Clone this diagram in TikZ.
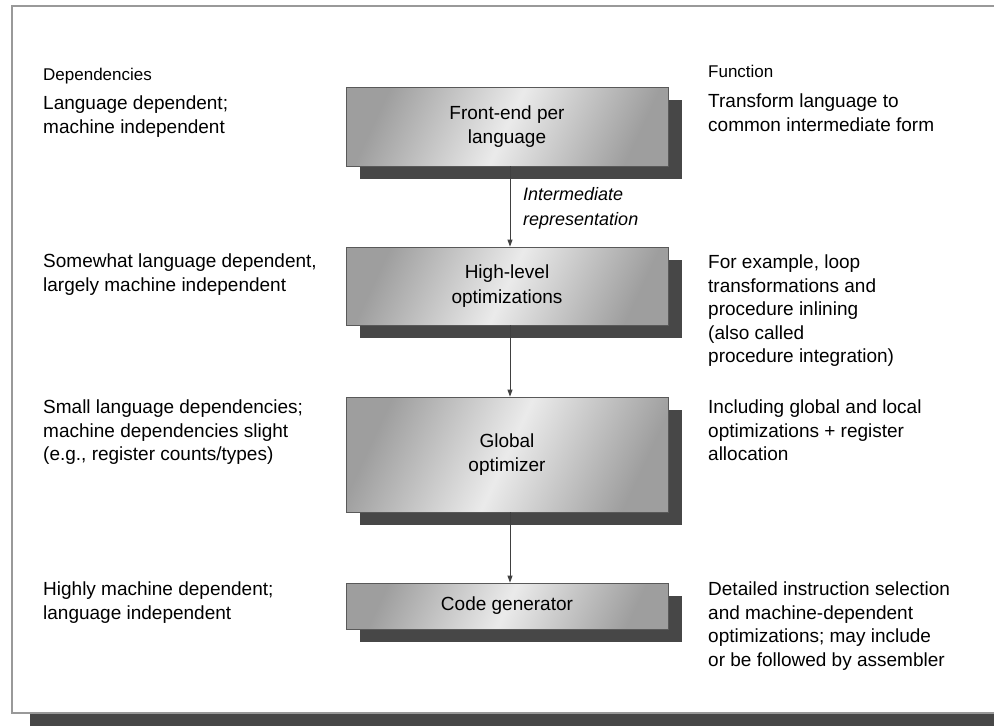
\documentclass[tikz,border=0pt]{standalone}
\usepackage{fontspec}
\setmainfont{Liberation Sans}
\usetikzlibrary{arrows.meta,shadows}
\begin{document}
\begin{tikzpicture}[x=1pt,y=-1pt,
  stagebox/.style={draw=black!65, line width=0.8pt,
    left color=black!38, right color=black!38, middle color=black!8, shading angle=65,
    minimum width=322pt, inner sep=0pt, align=center,
    font=\fontsize{19}{24.5}\selectfont,
    drop shadow={shadow xshift=14pt, shadow yshift=-13pt, fill=black!72, opacity=1, draw=none}},
  sidetext/.style={anchor=north west, inner sep=0pt, align=left,
    font=\fontsize{19}{23.5}\selectfont},
  headtext/.style={anchor=north west, inner sep=0pt, align=left,
    font=\fontsize{17}{21}\selectfont},
  flow/.style={draw=black!75, line width=0.9pt, -{Triangle[length=7pt,width=5pt]}}
]
\useasboundingbox (0,0) rectangle (994,726);
% outer frame with shadow
\fill[black!72] (30,24) rectangle (1030,726);
\draw[black!40, line width=2.5pt, fill=white] (12,6) rectangle (1010,713);

% stages
\node[stagebox, minimum height=79pt]  (fe) at (507,126.5) {Front-end per\\language};
\node[stagebox, minimum height=78pt]  (hl) at (507,286)   {High-level\\optimizations};
\node[stagebox, minimum height=115pt] (go) at (507,454.5) {Global\\optimizer};
\node[stagebox, minimum height=46pt]  (cg) at (507,606)   {Code generator};

% connectors
\draw[flow] ([xshift=3pt]fe.south) -- ([xshift=3pt]hl.north);
\draw[flow] ([xshift=3pt]hl.south) -- ([xshift=3pt]go.north);
\draw[flow] ([xshift=3pt]go.south) -- ([xshift=3pt]cg.north);

\node[anchor=north west, inner sep=0pt, align=left,
  font=\fontsize{18}{25}\selectfont\itshape] (ir) at (523,187) {Intermediate\\representation};

% left column
\node[headtext] (dep) at (43,68) {Dependencies};
\node[sidetext] (d1) at (43,96) {Language dependent;\\machine independent};
\node[sidetext] (d2) at (43,254) {Somewhat language dependent,\\largely machine independent};
\node[sidetext] (d3) at (43,400) {Small language dependencies;\\machine dependencies slight\\(e.g., register counts/types)};
\node[sidetext] (d4) at (43,582) {Highly machine dependent;\\language independent};

% right column
\node[headtext] (fun) at (708,65) {Function};
\node[sidetext] (f1) at (708,94) {Transform language to\\common intermediate form};
\node[sidetext] (f2) at (708,255) {For example, loop\\transformations and\\procedure inlining\\(also called\\procedure integration)};
\node[sidetext] (f3) at (708,400) {Including global and local\\optimizations + register\\allocation};
\node[sidetext] (f4) at (708,582) {Detailed instruction selection\\and machine-dependent\\optimizations; may include\\or be followed by assembler};
\end{tikzpicture}
\end{document}
